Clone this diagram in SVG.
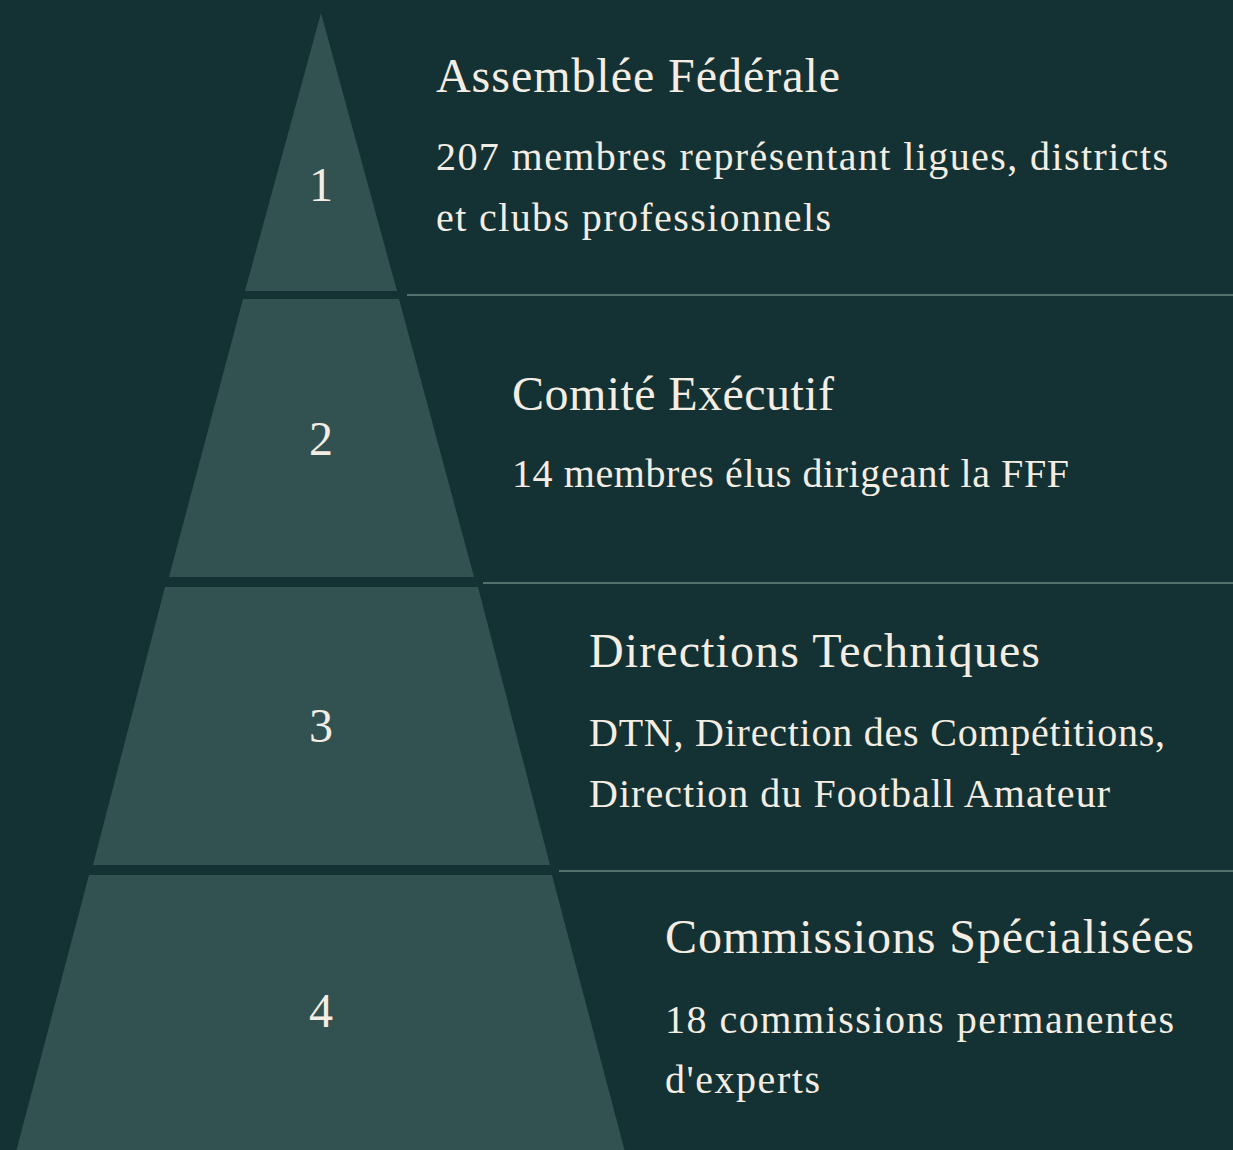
<svg xmlns="http://www.w3.org/2000/svg" width="1233" height="1150" viewBox="0 0 1233 1150">
<style>
.bg{fill:#143233}
.band{fill:#325251}
.sep{fill:#53716d}
.num{font-family:"Liberation Serif",serif;font-size:48px;fill:#f4ede3;text-anchor:middle}
.title{font-family:"Liberation Serif",serif;font-size:48px;fill:#f4ede3}
.desc{font-family:"Liberation Serif",serif;font-size:40px;fill:#f4ede3}
</style>
<rect class="bg" x="0" y="0" width="1233" height="1150"/>
<g id="connectors">
<rect class="sep" x="407" y="294" width="826" height="2"/>
<rect class="sep" x="483" y="582" width="750" height="2"/>
<rect class="sep" x="559" y="870" width="674" height="2"/>
</g>
<g id="level1">
<polygon class="band" points="321,13 397,291 245,291"/>
<text class="num" x="321" y="201">1</text>
<text class="title" x="436" y="92" textLength="404" lengthAdjust="spacing">Assemblée Fédérale</text>
<text class="desc" x="436" y="170" textLength="732" lengthAdjust="spacing">207 membres représentant ligues, districts</text>
<text class="desc" x="436" y="231" textLength="395" lengthAdjust="spacing">et clubs professionnels</text>
</g>
<g id="level2">
<polygon class="band" points="243,299 399,299 474,577 169,577"/>
<text class="num" x="321" y="455">2</text>
<text class="title" x="512" y="410" textLength="322" lengthAdjust="spacing">Comité Exécutif</text>
<text class="desc" x="512" y="487" textLength="557" lengthAdjust="spacing">14 membres élus dirigeant la FFF</text>
</g>
<g id="level3">
<polygon class="band" points="165,587 478,587 550,865 93,865"/>
<text class="num" x="321" y="742">3</text>
<text class="title" x="589" y="667" textLength="451" lengthAdjust="spacing">Directions Techniques</text>
<text class="desc" x="589" y="746" textLength="576" lengthAdjust="spacing">DTN, Direction des Compétitions,</text>
<text class="desc" x="589" y="807" textLength="521" lengthAdjust="spacing">Direction du Football Amateur</text>
</g>
<g id="level4">
<polygon class="band" points="89,875 552,875 625,1152 16,1152"/>
<text class="num" x="321" y="1027">4</text>
<text class="title" x="665" y="953" textLength="529" lengthAdjust="spacing">Commissions Spécialisées</text>
<text class="desc" x="665" y="1033" textLength="509" lengthAdjust="spacing">18 commissions permanentes</text>
<text class="desc" x="665" y="1093" textLength="155" lengthAdjust="spacing">d'experts</text>
</g>
</svg>
